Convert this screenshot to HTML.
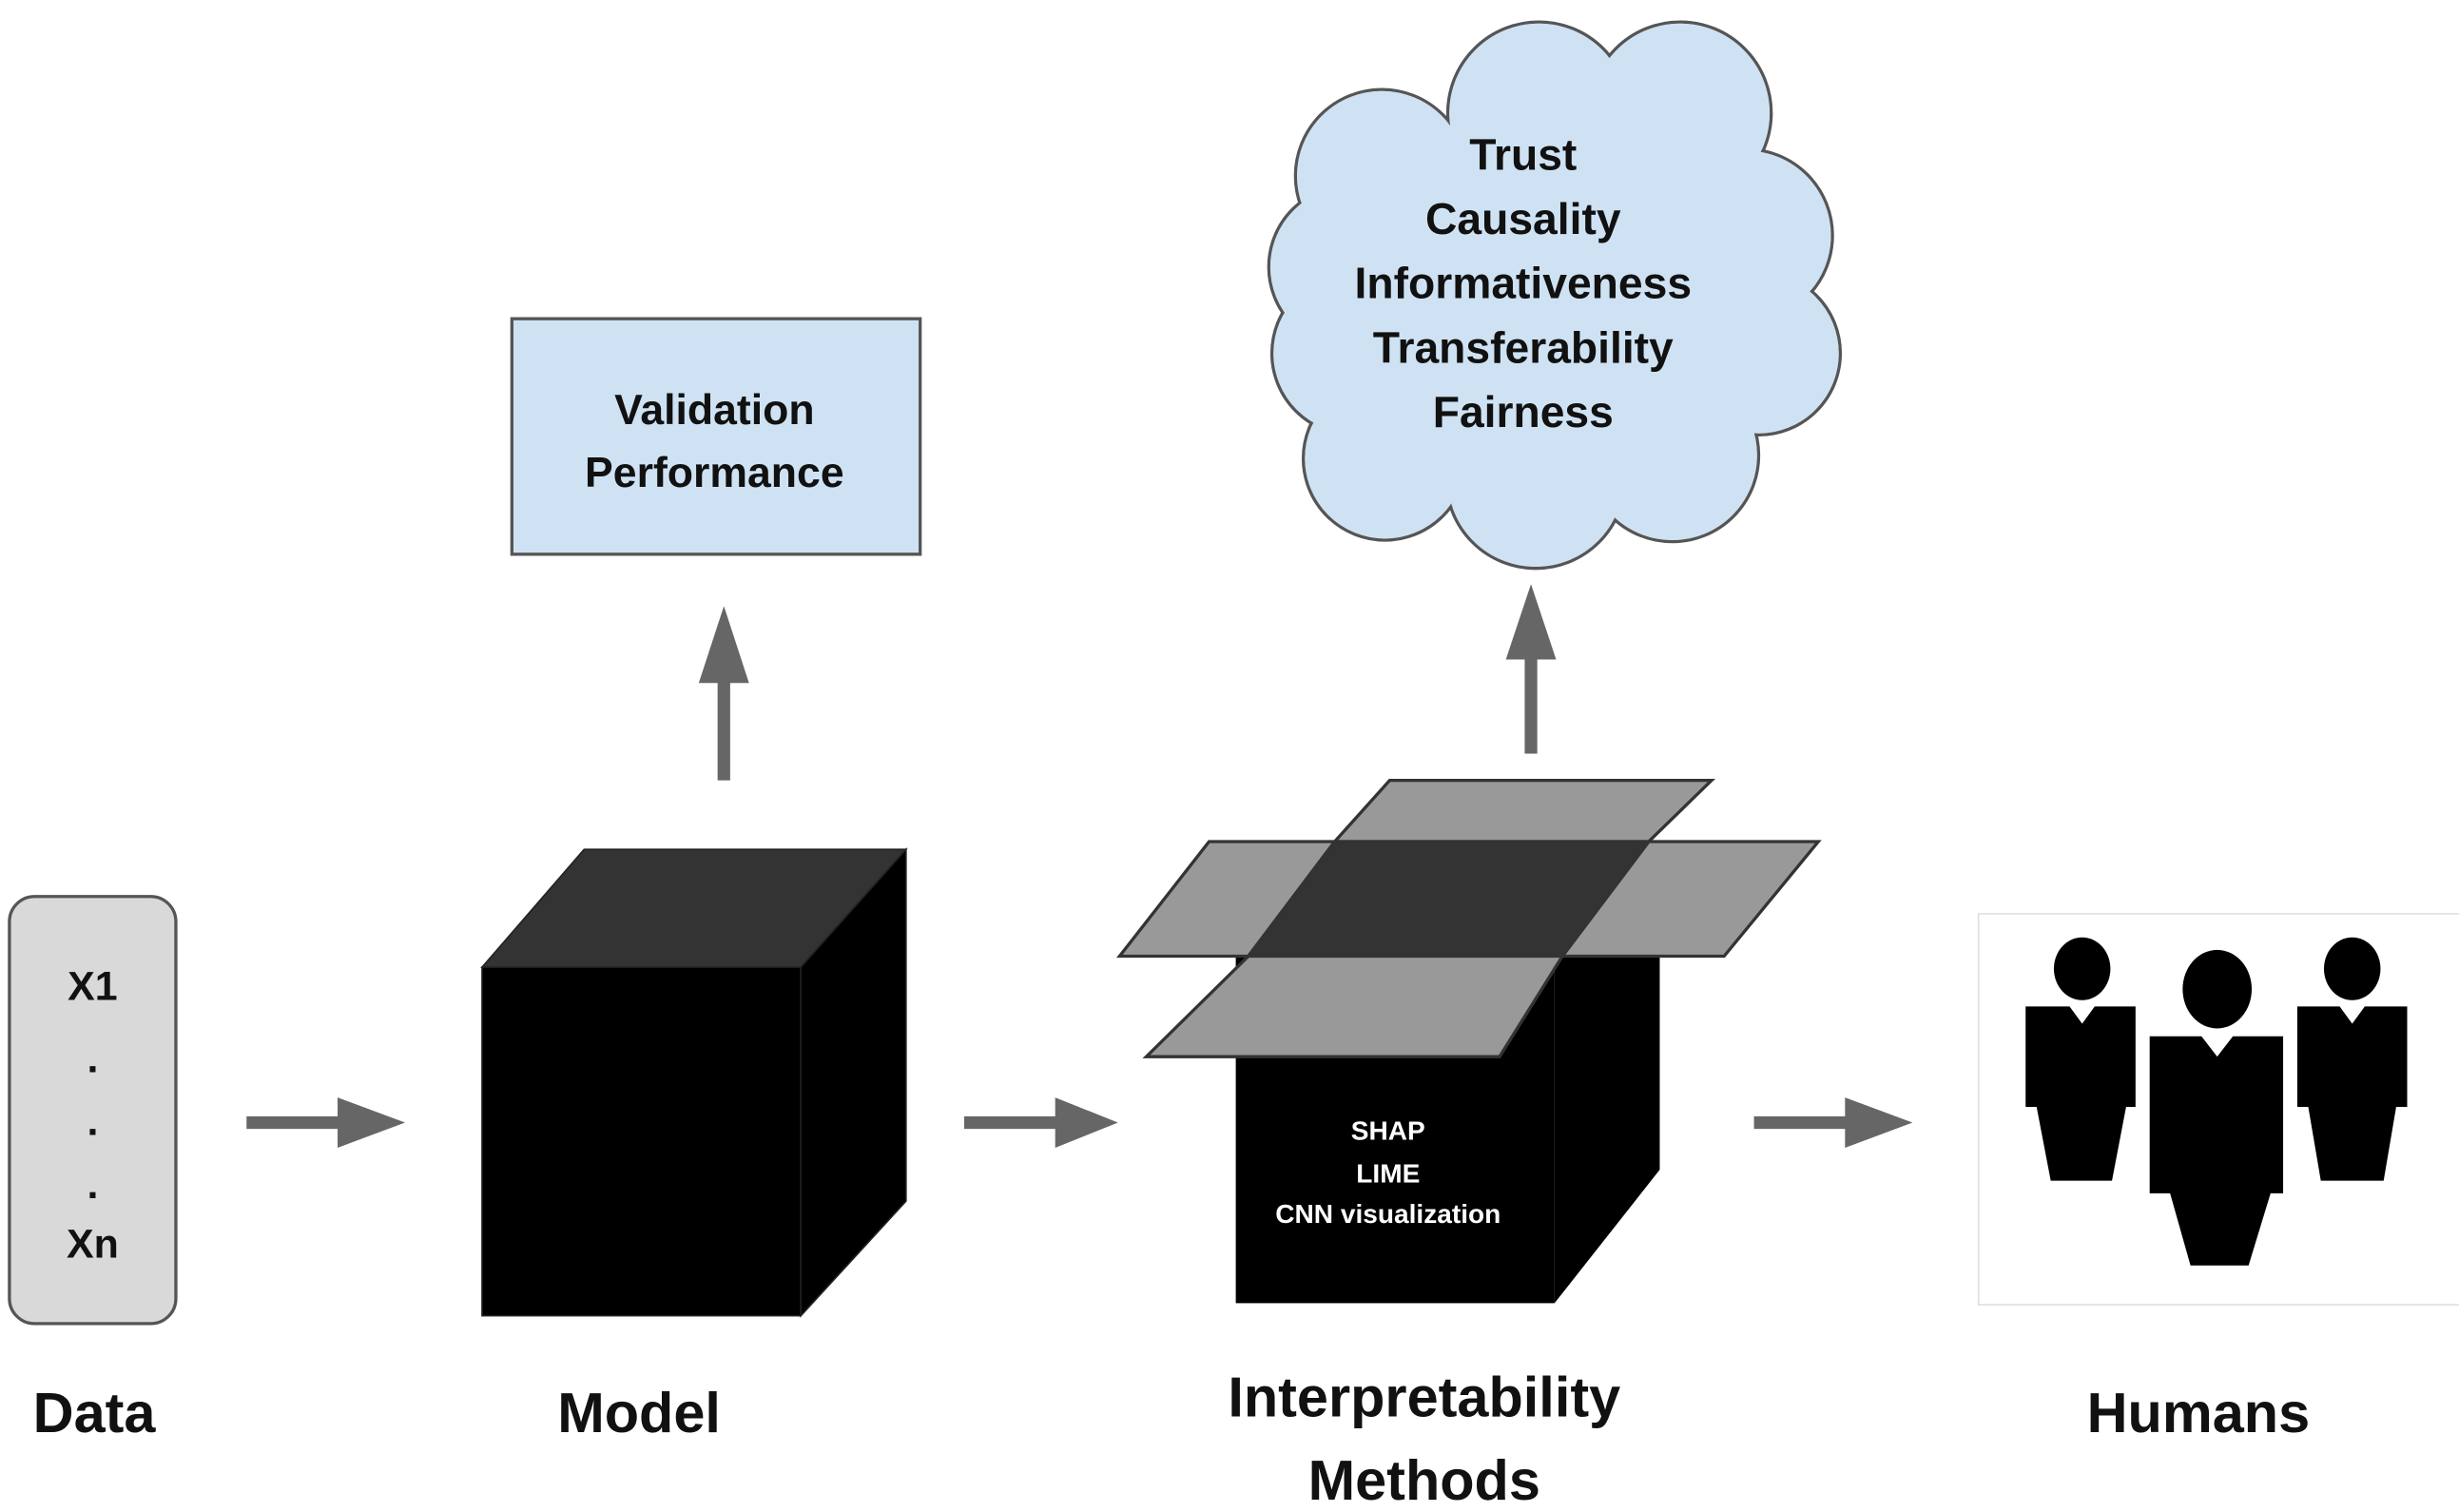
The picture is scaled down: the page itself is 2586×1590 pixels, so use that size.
<!DOCTYPE html>
<html><head><meta charset="utf-8"><style>html,body{margin:0;padding:0;background:#fff}svg{display:block}</style></head>
<body>
<svg width="2586" height="1590" viewBox="0 0 1566 963" preserveAspectRatio="none" xmlns="http://www.w3.org/2000/svg" font-family="Liberation Sans, sans-serif" font-weight="bold">
<rect width="1566" height="963" fill="#fff"/>
<!-- Data -->
<rect x="6" y="571" width="106" height="272" rx="16" fill="#d9d9d9" stroke="#555" stroke-width="2"/>
<g font-size="26" text-anchor="middle" fill="#111">
<text x="59" y="637">X1</text>
<text x="59" y="683">.</text>
<text x="59" y="723">.</text>
<text x="59" y="763">.</text>
<text x="59" y="801">Xn</text>
</g>
<!-- arrows -->
<g fill="#666" stroke="none">
<rect x="157" y="711" width="62" height="8"/><polygon points="215,699 258,715 215,731"/>
<rect x="614" y="711" width="62" height="8"/><polygon points="672,699 712,715 672,731"/>
<rect x="1117" y="711" width="62" height="8"/><polygon points="1175,699 1218,715 1175,731"/>
<rect x="457" y="430" width="8" height="67"/><polygon points="445,435 461,386 477,435"/>
<rect x="971" y="418" width="8" height="62"/><polygon points="959,420 975,372 991,420"/>
</g>
<!-- Model cube -->
<polygon points="307,616 372,541 577,541 510,616" fill="#333" stroke="#222"/>
<polygon points="510,616 577,541 577,765 510,838" fill="#000" stroke="#222"/>
<rect x="307" y="616" width="203" height="222" fill="#000" stroke="#222"/>
<!-- Validation -->
<rect x="326" y="203" width="260" height="150" fill="#cfe2f3" stroke="#555" stroke-width="2"/>
<g font-size="27" text-anchor="middle" fill="#111">
<text x="455" y="270">Validation</text>
<text x="455" y="310">Performance</text>
</g>
<!-- Interp box -->
<polygon points="990,609 1057,609 1057,745 990,830" fill="#000"/>
<rect x="787" y="609" width="203" height="221" fill="#000"/>
<polygon points="885,497 1090,497 1050,536 850,536" fill="#999" stroke="#333" stroke-width="2"/>
<polygon points="770,536 850,536 795,609 713,609" fill="#999" stroke="#333" stroke-width="2"/>
<polygon points="1050,536 1158,536 1098,609 995,609" fill="#999" stroke="#333" stroke-width="2"/>
<polygon points="850,536 1050,536 995,609 795,609" fill="#333" stroke="#333" stroke-width="2"/>
<polygon points="795,609 995,609 955,673 730,673" fill="#999" stroke="#333" stroke-width="2"/>
<g font-size="17" text-anchor="middle" fill="#fff">
<text x="884" y="726">SHAP</text>
<text x="884" y="753">LIME</text>
<text x="884" y="779">CNN visualization</text>
</g>
<!-- Cloud -->
<g fill="#cfe2f3" stroke="#555" stroke-width="2">
<circle cx="880" cy="112" r="55"/><circle cx="980" cy="72" r="58"/><circle cx="1070" cy="72" r="58"/>
<circle cx="1112" cy="150" r="55"/><circle cx="1120" cy="225" r="52"/><circle cx="1065" cy="290" r="55"/>
<circle cx="978" cy="305" r="57"/><circle cx="882" cy="292" r="52"/><circle cx="862" cy="225" r="52"/><circle cx="860" cy="170" r="52"/>
</g>
<g fill="#cfe2f3">
<circle cx="880" cy="112" r="54"/><circle cx="980" cy="72" r="57"/><circle cx="1070" cy="72" r="57"/>
<circle cx="1112" cy="150" r="54"/><circle cx="1120" cy="225" r="51"/><circle cx="1065" cy="290" r="54"/>
<circle cx="978" cy="305" r="56"/><circle cx="882" cy="292" r="51"/><circle cx="862" cy="225" r="51"/><circle cx="860" cy="170" r="51"/>
<circle cx="975" cy="190" r="120"/>
</g>
<g font-size="28" text-anchor="middle" fill="#111">
<text x="970" y="108">Trust</text>
<text x="970" y="149">Causality</text>
<text x="970" y="190">Informativeness</text>
<text x="970" y="231">Transferability</text>
<text x="970" y="272">Fairness</text>
</g>
<!-- Humans -->
<rect x="1260" y="582" width="310" height="249" fill="#fff" stroke="#e0e0e0"/>
<g fill="#000">
<ellipse cx="1326" cy="617" rx="18" ry="20"/>
<polygon points="1290,641 1318,641 1326,652 1334,641 1360,641 1360,705 1354,705 1345,752 1306,752 1297,705 1290,705"/>
<ellipse cx="1498" cy="617" rx="18" ry="20"/>
<polygon points="1463,641 1490,641 1498,652 1506,641 1533,641 1533,705 1526,705 1518,752 1478,752 1470,705 1463,705"/>
<ellipse cx="1412" cy="630" rx="22" ry="25"/>
<polygon points="1369,660 1402,660 1412,673 1422,660 1454,660 1454,760 1446,760 1432,806 1395,806 1382,760 1369,760"/>
</g>
<!-- Labels -->
<g font-size="36" text-anchor="middle" fill="#111">
<text x="60" y="912">Data</text>
<text x="407" y="912">Model</text>
<text x="907" y="902">Interpretability</text>
<text x="907" y="955">Methods</text>
<text x="1400" y="912">Humans</text>
</g>
</svg>
</body></html>
